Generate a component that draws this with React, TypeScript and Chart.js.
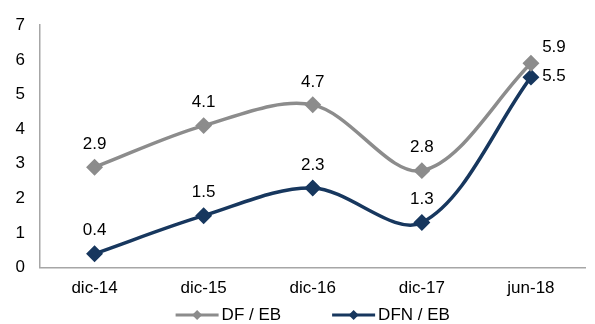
import React, { useEffect, useRef } from "react";
import { Chart, registerables } from "chart.js";

Chart.register(...registerables);

const categories = ["dic-14", "dic-15", "dic-16", "dic-17", "jun-18"];
const dfEb = [2.9, 4.1, 4.7, 2.8, 5.9];
const dfnEb = [0.4, 1.5, 2.3, 1.3, 5.5];
const seriesNames = ["DF / EB", "DFN / EB"];
const seriesColors = ["#8c8c8c", "#17375e"];

const FONT = "Arial, 'Liberation Sans', sans-serif";

const labelPlugin = {
  id: "pointLabels",
  afterDatasetsDraw(chart: any) {
    const ctx = chart.ctx;
    ctx.save();
    ctx.font = `17px ${FONT}`;
    ctx.fillStyle = "#000";
    ctx.textAlign = "center";
    ctx.textBaseline = "middle";
    chart.data.datasets.forEach((ds: any, di: number) => {
      const meta = chart.getDatasetMeta(di);
      meta.data.forEach((pt: any, i: number) => {
        const v = ds.data[i];
        let x = pt.x;
        let y = pt.y - 23;
        if (i === ds.data.length - 1) {
          x = pt.x + 23;
          y = di === 0 ? pt.y - 16 : pt.y - 1;
        }
        ctx.fillText(v.toFixed(1), x, y);
      });
    });
    ctx.restore();
  },
};

const legendPlugin = {
  id: "customLegend",
  afterDraw(chart: any) {
    const ctx = chart.ctx;
    ctx.save();
    ctx.font = `17px ${FONT}`;
    const lineW = 43;
    const gap = 3;
    const itemGap = 51;
    const widths = seriesNames.map((n) => lineW + gap + ctx.measureText(n).width);
    const total = widths.reduce((a, b) => a + b, 0) + itemGap;
    let x = (chart.chartArea.left + chart.chartArea.right) / 2 - total / 2;
    const y = 315;
    seriesNames.forEach((n, i) => {
      ctx.strokeStyle = seriesColors[i];
      ctx.lineWidth = 3;
      ctx.beginPath();
      ctx.moveTo(x, y);
      ctx.lineTo(x + lineW, y);
      ctx.stroke();
      const cx = x + lineW / 2;
      ctx.fillStyle = seriesColors[i];
      ctx.beginPath();
      ctx.moveTo(cx, y - 5);
      ctx.lineTo(cx + 5, y);
      ctx.lineTo(cx, y + 5);
      ctx.lineTo(cx - 5, y);
      ctx.closePath();
      ctx.fill();
      ctx.fillStyle = "#000";
      ctx.textAlign = "left";
      ctx.textBaseline = "middle";
      ctx.fillText(n, x + lineW + gap, y);
      x += widths[i] + itemGap;
    });
    ctx.restore();
  },
};

export default function App() {
  const ref = useRef<HTMLCanvasElement>(null);
  useEffect(() => {
    document.body.style.margin = "0";
    const chart = new Chart(ref.current!, {
      type: "line",
      data: {
        labels: categories,
        datasets: [dfEb, dfnEb].map((d, i) => ({
          label: seriesNames[i],
          data: d,
          borderColor: seriesColors[i],
          backgroundColor: seriesColors[i],
          borderWidth: 3.5,
          pointStyle: "rectRot",
          pointRadius: 6,
          pointHoverRadius: 6,
          tension: 0.33,
          fill: false,
        })),
      },
      options: {
        animation: false,
        responsive: false,
        layout: { padding: { top: 7, right: 0, left: 0, bottom: 14 } },
        plugins: { legend: { display: false }, tooltip: { enabled: false } },
        scales: {
          x: {
            offset: true,
            grid: { display: false, drawTicks: false },
            border: { display: true, color: "#a6a6a6", width: 1.5 },
            ticks: { color: "#000", font: { size: 17, family: FONT }, padding: 11 },
          },
          y: {
            min: 0,
            max: 7,
            afterFit: (s: any) => { s.width = 40; },
            grid: { display: false, drawTicks: false },
            border: { display: true, color: "#a6a6a6", width: 1.5 },
            ticks: { stepSize: 1, color: "#000", font: { size: 17, family: FONT }, padding: 15 },
          },
        },
      },
      plugins: [labelPlugin, legendPlugin],
    });
    return () => chart.destroy();
  }, []);
  return <canvas ref={ref} width={595} height={324} style={{ display: "block" }} />;
}
